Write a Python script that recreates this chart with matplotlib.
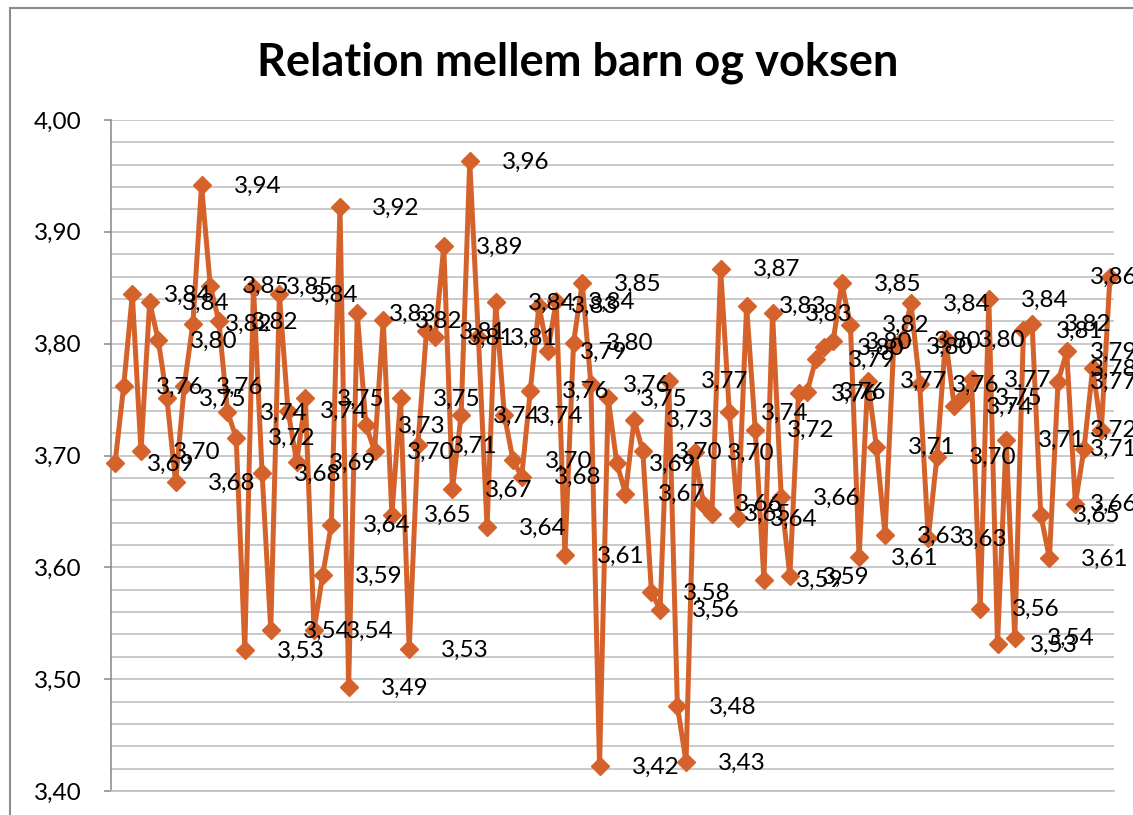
import numpy as np
import matplotlib
matplotlib.use("Agg")
import matplotlib.pyplot as plt
from matplotlib.patches import Rectangle

plt.rcParams['font.family'] = ['Lato', 'DejaVu Sans']

# gennemsnit pr. besvarelse, aflaest fra grafen
values = [
    3.693, 3.762, 3.844, 3.704, 3.837, 3.803, 3.751, 3.676, 3.762, 3.818,
    3.942, 3.852, 3.820, 3.739, 3.716, 3.526, 3.851, 3.684, 3.544, 3.844,
    3.740, 3.694, 3.751, 3.544, 3.593, 3.638, 3.922, 3.493, 3.827, 3.727,
    3.704, 3.821, 3.647, 3.751, 3.527, 3.709, 3.811, 3.806, 3.887, 3.670,
    3.736, 3.963, 3.806, 3.636, 3.837, 3.736, 3.696, 3.681, 3.758, 3.834,
    3.793, 3.838, 3.611, 3.801, 3.854, 3.764, 3.422, 3.751, 3.693, 3.666,
    3.732, 3.704, 3.578, 3.562, 3.767, 3.476, 3.426, 3.703, 3.657, 3.648,
    3.867, 3.739, 3.644, 3.834, 3.723, 3.589, 3.827, 3.663, 3.592, 3.756,
    3.757, 3.786, 3.797, 3.802, 3.854, 3.817, 3.609, 3.767, 3.708, 3.629,
    3.798, 3.803, 3.836, 3.764, 3.626, 3.699, 3.804, 3.744, 3.752, 3.768,
    3.563, 3.840, 3.531, 3.714, 3.537, 3.812, 3.818, 3.647, 3.608, 3.766,
    3.793, 3.657, 3.706, 3.778, 3.723, 3.860,
]
title = "Relation mellem barn og voksen"

ORANGE = '#D4622A'
W, H = 1133, 815

fig = plt.figure(figsize=(W / 100, H / 100), dpi=100)
fig.patch.set_facecolor('white')

# chart area border (only left and top edges are visible)
fig.patches.append(Rectangle((10 / W, -0.1), 1.2, (H - 8) / H + 0.1,
                             transform=fig.transFigure, fill=False,
                             ec='#8c8c8c', lw=1.5))

ax = fig.add_axes([110.7 / W, 24 / H, 1003.6 / W, 671 / H])
x = np.arange(len(values))
ax.set_xlim(-0.5, len(values) - 0.5)
ax.set_ylim(3.40, 4.00)
ax.set_yticks(np.arange(3.40, 4.001, 0.10))
ax.set_yticks(np.arange(3.40, 4.001, 0.02), minor=True)
ax.yaxis.set_major_formatter(lambda v, p: f"{v:.2f}".replace('.', ','))
ax.grid(True, which='both', axis='y', color='#c0c0c0', lw=1.2)
ax.set_axisbelow(True)
ax.tick_params(axis='y', which='major', length=5, width=1.1, color='#868686',
               pad=16, labelsize=17.5)
ax.tick_params(axis='y', which='minor', length=0)
ax.set_xticks([])
for s in ['top', 'right']:
    ax.spines[s].set_visible(False)
ax.spines['left'].set_color('#868686')
ax.spines['left'].set_linewidth(1.1)
ax.spines['bottom'].set_color('#c0c0c0')
ax.spines['bottom'].set_linewidth(1.2)

ax.plot(x, values, color=ORANGE, lw=3.6, marker='D', ms=9.5, mec=ORANGE,
        mfc=ORANGE, mew=1, clip_on=False, zorder=3)

# data labels to the right of each point, pushed inside the chart at the edge
for i, v in enumerate(values):
    px = ax.transData.transform((i, v))[0]
    dx = min(32, 1090 - px)
    ax.annotate(f"{v:.2f}".replace('.', ','), (i, v), xytext=(dx, -1),
                textcoords='offset pixels', ha='left', va='center',
                fontsize=17.5, color='black', zorder=5, annotation_clip=False)

fig.text(577.5 / W, 1 - 75 / H, title, ha='center', va='baseline',
         fontsize=32.5, fontweight='bold', color='black')

fig.savefig('out.png', dpi=100)
